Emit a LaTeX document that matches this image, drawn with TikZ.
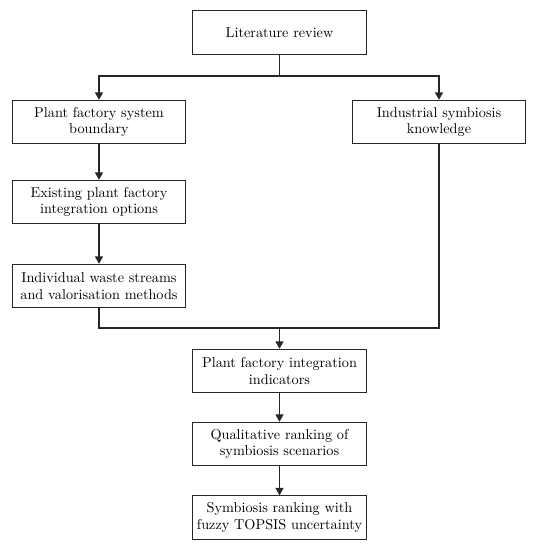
\documentclass[tikz,border=0pt]{standalone}
\usetikzlibrary{arrows.meta}

\begin{document}
\begin{tikzpicture}[x=0.75pt,y=-0.75pt,
  box/.style={draw=black!85,line width=0.9pt,fill=white,minimum width=130pt,
    minimum height=32.5pt,align=center,inner sep=1pt,
    font=\fontsize{10.7}{12.6}\selectfont},
  arr/.style={draw=black!85,line width=0.9pt,-{Triangle[length=5.5pt,width=6pt]}},
  ln/.style={draw=black!85,line width=0.9pt}]
  \useasboundingbox (0,0) rectangle (533,550);
  % Top of the flow
  \node[box] (lit) at (279.5,32.5) {Literature review};
  \coordinate (split) at (279.5,76);
  % Two branches
  \node[box] (pfsb) at (99,122) {Plant factory system\\boundary};
  \node[box] (isk) at (439,122) {Industrial symbiosis\\knowledge};
  \node[box] (exist) at (99,202) {Existing plant factory\\integration options};
  \node[box] (waste) at (99,286) {Individual waste streams\\and valorisation methods};
  % Joined part
  \coordinate (merge) at (279.5,328);
  \node[box] (ind) at (279.5,371) {Plant factory integration\\indicators};
  \node[box] (qual) at (279.5,444) {Qualitative ranking of\\symbiosis scenarios};
  \node[box] (rank) at (279.5,517.5) {Symbiosis ranking with\\fuzzy TOPSIS uncertainty};
  % Connectors
  \draw[ln] (lit.south) -- (split);
  \draw[arr] (split) -| (pfsb.north);
  \draw[arr] (split) -| (isk.north);
  \draw[arr] (pfsb) -- (exist);
  \draw[arr] (exist) -- (waste);
  \draw[ln] (waste.south) |- (merge);
  \draw[ln] (isk.south) |- (merge);
  \draw[arr] (merge) -- (ind.north);
  \draw[arr] (ind) -- (qual);
  \draw[arr] (qual) -- (rank);
\end{tikzpicture}
\end{document}
